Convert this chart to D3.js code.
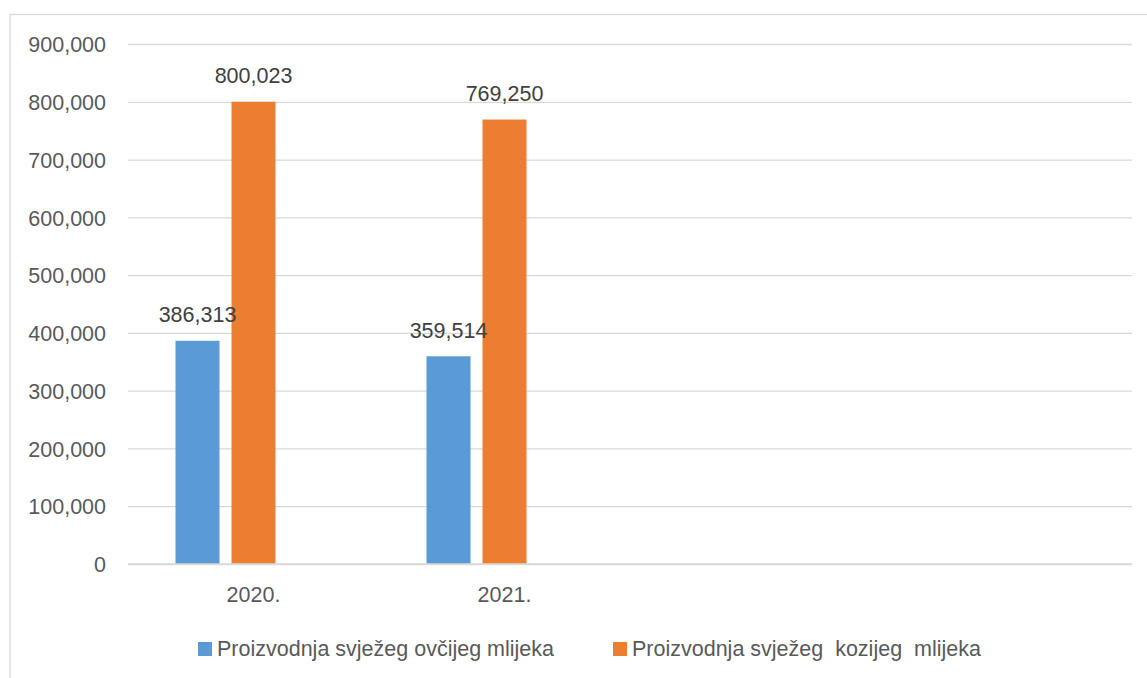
<!DOCTYPE html>
<html>
<head>
<meta charset="utf-8">
<script src="https://cdn.jsdelivr.net/npm/d3@7"></script>
<style>
  html, body { margin: 0; padding: 0; background: #ffffff; }
  svg { display: block; }
  text { font-family: "Liberation Sans", Arial, sans-serif; }
</style>
</head>
<body>
<svg id="chart" width="1147" height="678"></svg>
<script>
// ---- Data ----
const categories = ["2020.", "2021.", "", ""];
const seriesNames = ["Proizvodnja svježeg ovčijeg mlijeka", "Proizvodnja svježeg  kozijeg  mlijeka"];
const sheepMilk = [386313, 359514];
const goatMilk = [800023, 769250];
const yTicks = [0, 100000, 200000, 300000, 400000, 500000, 600000, 700000, 800000, 900000];
// the source chart reserves a third (empty) series slot in each group
const seriesSlots = ["ovce", "koze", "prazno"];

const colors = ["#5B9BD5", "#ED7D31"];

const svg = d3.select("#chart");

// chart border
svg.append("rect")
  .attr("x", 10).attr("y", 14.5)
  .attr("width", 1160).attr("height", 700)
  .attr("fill", "none").attr("stroke", "#d9d9d9").attr("stroke-width", 1.3);

const plot = { left: 128, right: 1132, top: 44, bottom: 564 };

const y = d3.scaleLinear().domain([0, 900000]).range([plot.bottom, plot.top]);
const x0 = d3.scaleBand().domain(d3.range(categories.length)).range([plot.left, plot.right]).padding(0);
const groupW = 156;
const x1 = d3.scaleBand().domain(seriesSlots)
  .range([(x0.bandwidth() - groupW) / 2, (x0.bandwidth() + groupW) / 2])
  .paddingInner(12 / 56).paddingOuter(0);

// gridlines
const grid = svg.append("g").attr("transform", `translate(${plot.left},0)`)
  .call(d3.axisLeft(y).tickValues(yTicks).tickSize(-(plot.right - plot.left)).tickFormat(""));
grid.select(".domain").remove();
grid.selectAll("line").attr("stroke", "#d9d9d9").attr("stroke-width", 1.3);

// y tick labels
const yAxis = svg.append("g").attr("transform", `translate(106,0)`)
  .call(d3.axisLeft(y).tickValues(yTicks).tickSize(0).tickPadding(0).tickFormat(d3.format(",")));
yAxis.select(".domain").remove();
yAxis.selectAll("text")
  .attr("fill", "#595959").attr("font-size", 21.5)
  .attr("dy", "0.36em")
  .style("font-family", "'Liberation Sans', Arial, sans-serif");

// x category labels
const xAxis = svg.append("g").attr("transform", `translate(0,${plot.bottom})`)
  .call(d3.axisBottom(x0).tickSize(0).tickPadding(0).tickFormat(i => categories[i]));
xAxis.select(".domain").remove();
xAxis.selectAll("text")
  .attr("fill", "#595959").attr("font-size", 21.5)
  .attr("y", 38).attr("dy", 0)
  .style("font-family", "'Liberation Sans', Arial, sans-serif");

// bars
const seriesData = [sheepMilk, goatMilk];
seriesData.forEach((vals, s) => {
  svg.append("g").selectAll("rect").data(vals).join("rect")
    .attr("x", (d, i) => x0(i) + x1(seriesSlots[s]))
    .attr("y", d => y(d))
    .attr("width", x1.bandwidth())
    .attr("height", d => y(0) - y(d))
    .attr("fill", colors[s]);
});

// axis line (zero)
svg.append("line")
  .attr("x1", plot.left).attr("x2", plot.right)
  .attr("y1", y(0)).attr("y2", y(0))
  .attr("stroke", "#d9d9d9").attr("stroke-width", 1.5);

// data labels (on top of all bars)
seriesData.forEach((vals, s) => {
  svg.append("g").selectAll("text").data(vals).join("text")
    .attr("x", (d, i) => x0(i) + x1(seriesSlots[s]) + x1.bandwidth() / 2)
    .attr("y", d => y(d) - 18.5)
    .attr("text-anchor", "middle")
    .attr("fill", "#404040").attr("font-size", 21.5)
    .text(d => d3.format(",")(d));
});

// legend
const legendX = [198, 613];
const legend = svg.append("g");
seriesNames.forEach((name, i) => {
  legend.append("rect")
    .attr("x", legendX[i]).attr("y", 642)
    .attr("width", 14).attr("height", 14)
    .attr("fill", colors[i]);
  legend.append("text")
    .attr("x", legendX[i] + 19).attr("y", 656)
    .attr("fill", "#595959").attr("font-size", 21.5)
    .style("white-space", "pre")
    .attr("xml:space", "preserve")
    .text(name);
});
</script>
</body>
</html>
